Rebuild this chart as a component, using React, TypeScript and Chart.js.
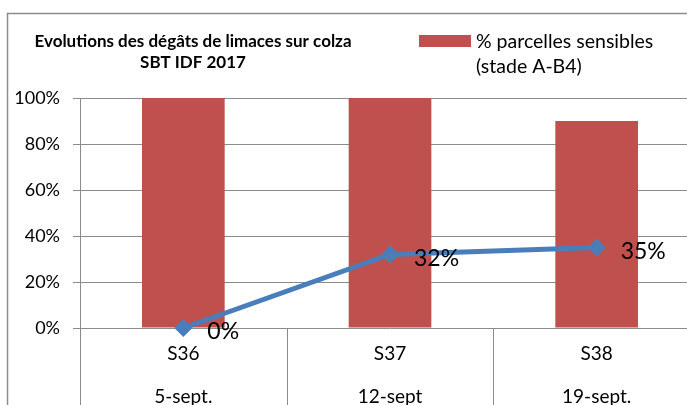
import React, { useEffect, useRef } from "react";
import { Chart, registerables } from "chart.js";

Chart.register(...registerables);

const weeks = ["S36", "S37", "S38"];
const dates = ["5-sept.", "12-sept", "19-sept."];
const sensiblesPct = [100, 100, 90];
const degatsPct = [0, 32, 35];
const yTicks = [0, 20, 40, 60, 80, 100];
const titleLines = ["Evolutions des dégâts de limaces sur colza", "SBT IDF 2017"];
const legendLines = ["% parcelles sensibles", "(stade A-B4)"];

const FONT = "Lato, 'Open Sans', sans-serif";
const GRID = "#8c8c8c";
const BAR = "#C0504D";
const LINE = "#4A7EBB";

const decorPlugin = {
  id: "decor",
  beforeDraw(chart: any) {
    const { ctx } = chart;
    ctx.save();
    ctx.fillStyle = "#fff";
    ctx.fillRect(0, 0, chart.width, chart.height);
    ctx.strokeStyle = GRID;
    ctx.lineWidth = 1.5;
    ctx.beginPath();
    ctx.moveTo(7.5, chart.height);
    ctx.lineTo(7.5, 13.5);
    ctx.lineTo(chart.width, 13.5);
    ctx.stroke();
    ctx.restore();
  },
  afterDraw(chart: any) {
    const { ctx, chartArea } = chart;
    const xs = chart.scales.x;
    ctx.save();
    ctx.strokeStyle = GRID;
    ctx.lineWidth = 1;
    for (let i = 0; i <= weeks.length; i++) {
      const x = Math.round(xs.getPixelForValue(i - 0.5)) + 0.5;
      ctx.beginPath();
      ctx.moveTo(x, chartArea.bottom);
      ctx.lineTo(x, chart.height);
      ctx.stroke();
    }
    ctx.fillStyle = "#000";
    ctx.textAlign = "center";
    ctx.textBaseline = "middle";
    ctx.font = `bold 17px ${FONT}`;
    ctx.fillText(titleLines[0], 193, 42);
    ctx.fillText(titleLines[1], 193, 63);
    ctx.fillStyle = BAR;
    ctx.fillRect(419, 35, 52, 12);
    ctx.fillStyle = "#000";
    ctx.textAlign = "left";
    ctx.font = `19.5px ${FONT}`;
    ctx.fillText(legendLines[0], 476, 42);
    ctx.fillText(legendLines[1], 476, 67);
    ctx.restore();
  },
  afterDatasetsDraw(chart: any) {
    const { ctx } = chart;
    const meta = chart.getDatasetMeta(1);
    ctx.save();
    ctx.fillStyle = "#000";
    ctx.font = `23px ${FONT}`;
    ctx.textAlign = "left";
    ctx.textBaseline = "middle";
    meta.data.forEach((pt: any, i: number) => {
      ctx.fillText(`${degatsPct[i]}%`, pt.x + 24, pt.y + 4);
    });
    ctx.restore();
  },
};

export default function App() {
  const ref = useRef<HTMLCanvasElement>(null);
  useEffect(() => {
    const chart = new Chart(ref.current!, {
      type: "bar",
      data: {
        labels: weeks.map((w, i) => [w, "", dates[i]]),
        datasets: [
          {
            type: "bar",
            label: legendLines.join(" "),
            data: sensiblesPct,
            backgroundColor: BAR,
            barPercentage: 0.4,
            categoryPercentage: 1,
            order: 2,
          },
          {
            type: "line",
            label: "dégâts",
            data: degatsPct,
            borderColor: LINE,
            backgroundColor: LINE,
            borderWidth: 5,
            pointStyle: "rectRot",
            pointRadius: 9,
            pointBorderWidth: 0,
            clip: false,
            order: 1,
          } as any,
        ],
      },
      options: {
        responsive: false,
        animation: false,
        devicePixelRatio: 1,
        layout: { padding: { top: 98, right: 20, left: 0, bottom: 0 } },
        plugins: { legend: { display: false }, tooltip: { enabled: false }, title: { display: false } },
        scales: {
          x: {
            grid: { display: false, drawTicks: false },
            border: { display: false },
            ticks: {
              color: "#000",
              font: { family: FONT, size: 19, lineHeight: 1.13 },
              padding: 15,
              maxRotation: 0,
            },
            afterFit: (s: any) => {
              s.height = 77;
            },
          },
          y: {
            min: 0,
            max: 100,
            afterBuildTicks: (s: any) => {
              s.ticks = yTicks.map((v) => ({ value: v }));
            },
            grid: { color: GRID, lineWidth: 1, tickLength: 7 },
            border: { color: GRID, width: 1 },
            ticks: {
              color: "#000",
              font: { family: FONT, size: 18 },
              padding: 13,
              callback: (v: any) => `${v}%`,
            },
            afterFit: (s: any) => {
              s.width = 80;
            },
          },
        },
      },
      plugins: [decorPlugin],
    });
    return () => chart.destroy();
  }, []);
  return (
    <div style={{ position: "absolute", left: 0, top: 0, width: 687, height: 405, overflow: "hidden" }}>
      <canvas ref={ref} width={720} height={405} style={{ display: "block" }} />
    </div>
  );
}
